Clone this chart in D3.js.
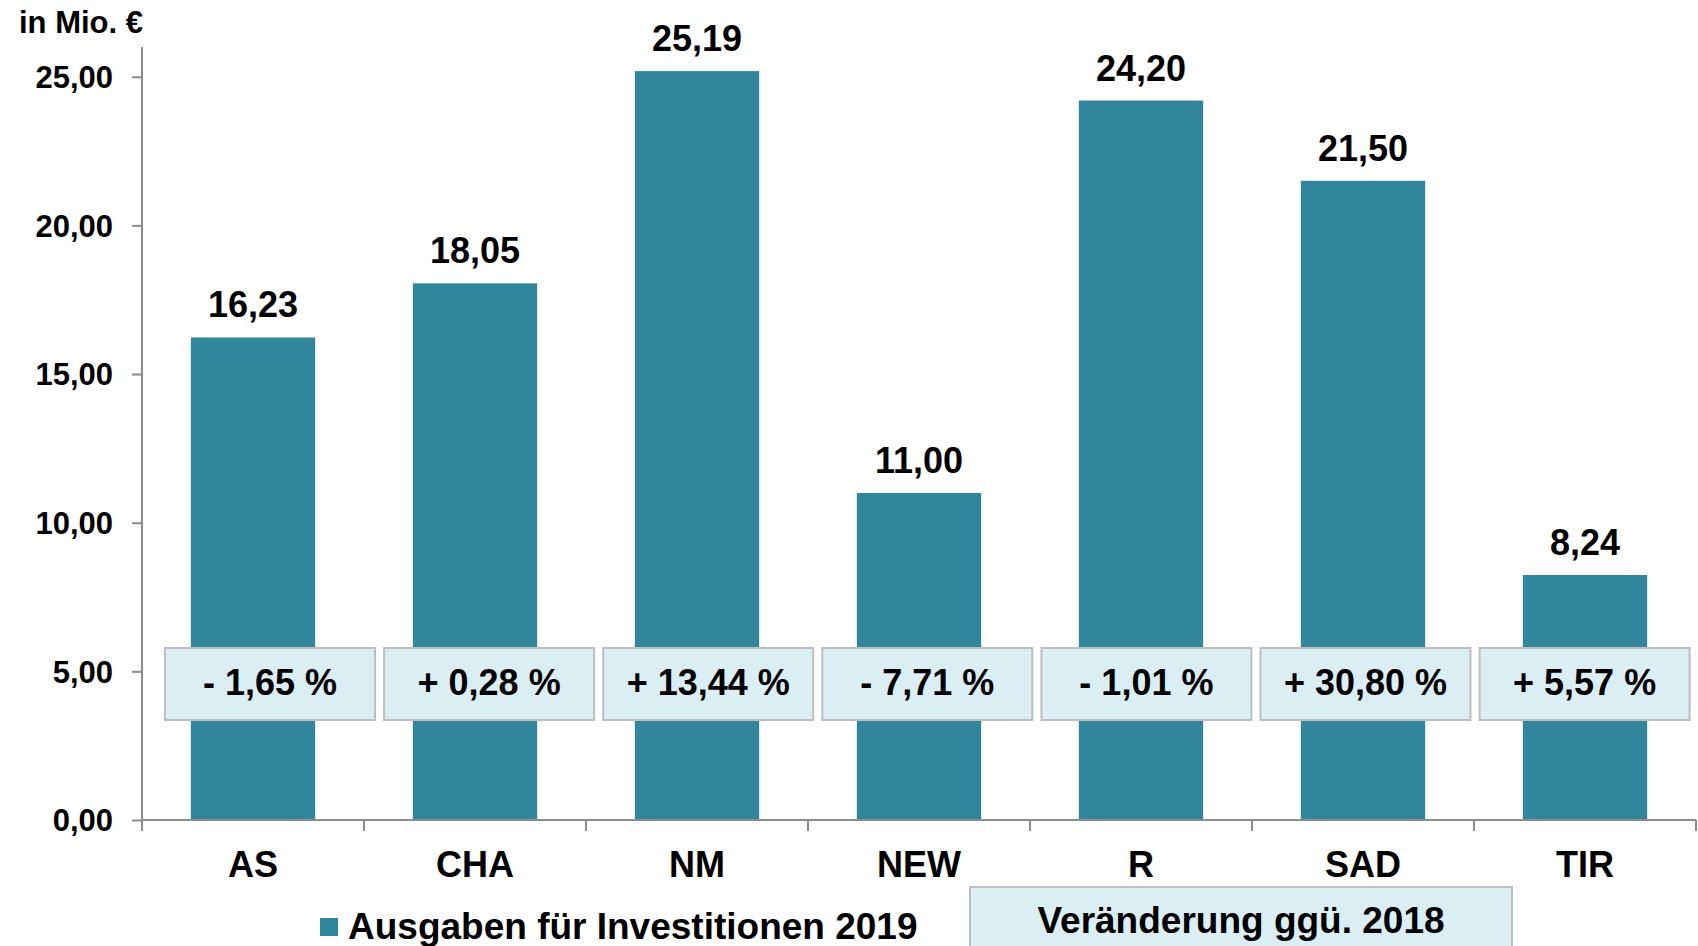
<!DOCTYPE html>
<html>
    <head>
        <meta charset="utf-8">
        <script src="https://d3js.org/d3.v7.min.js"></script>
        <style>
            body { margin: 0; background: #fff; }
            text { font-family: "Liberation Sans", Arial, sans-serif; font-weight: bold; fill: #000; }
        </style>
    </head>
    <body>
        <script>
            // data
            var categories = ["AS", "CHA", "NM", "NEW", "R", "SAD", "TIR"];
            var ausgaben2019 = [16.23, 18.05, 25.19, 11.00, 24.20, 21.50, 8.24];
            var veraenderung = ["- 1,65 %", "+ 0,28 %", "+ 13,44 %", "- 7,71 %", "- 1,01 %", "+ 30,80 %", "+ 5,57 %"];
            var yTicks = [0, 5, 10, 15, 20, 25];

            var w = 1698;
            var h = 946;
            var fmt = function(d) { return d.toFixed(2).replace(".", ","); };

            var svg = d3.select("body")
                .append("svg")
                    .attr("width", w)
                    .attr("height", h);

            var x = d3.scaleBand()
                .domain(categories)
                .range([142, 1696])
                .paddingInner(0.44)
                .paddingOuter(0.22);

            var y = d3.scaleLinear()
                .domain([0, 26])
                .range([820, 47]);

            var axisColor = "#8c8c8c";

            // bars
            svg.selectAll("rect.bar")
                .data(ausgaben2019)
                .enter()
                .append("rect")
                    .attr("class", "bar")
                    .attr("x", function(d, i) { return x(categories[i]); })
                    .attr("y", function(d) { return y(d); })
                    .attr("width", x.bandwidth())
                    .attr("height", function(d) { return y(0) - y(d); })
                    .style("fill", "#31869b");

            // value labels above bars
            svg.selectAll("text.val")
                .data(ausgaben2019)
                .enter()
                .append("text")
                    .attr("class", "val")
                    .attr("x", function(d, i) { return x(categories[i]) + x.bandwidth() / 2; })
                    .attr("y", function(d) { return y(d) - 20; })
                    .attr("text-anchor", "middle")
                    .attr("font-size", 36)
                    .text(fmt);

            // y axis
            var yAxis = svg.append("g")
                .attr("transform", "translate(142,0)")
                .call(d3.axisLeft(y).tickValues(yTicks).tickSize(10).tickPadding(19).tickFormat(fmt));
            yAxis.select(".domain").remove();
            yAxis.selectAll(".tick line").attr("stroke", axisColor).attr("stroke-width", 2);
            yAxis.selectAll(".tick text")
                .attr("font-size", 31)
                .attr("font-family", "Liberation Sans, Arial, sans-serif")
                .attr("font-weight", "bold")
                .attr("dy", "0.35em");
            svg.append("line")
                .attr("x1", 142).attr("x2", 142)
                .attr("y1", y.range()[1]).attr("y2", y(0))
                .attr("stroke", axisColor).attr("stroke-width", 2);

            // x axis
            var xAxis = svg.append("g")
                .attr("transform", "translate(0," + y(0) + ")")
                .call(d3.axisBottom(x).tickSize(0).tickPadding(31));
            xAxis.select(".domain").remove();
            xAxis.selectAll(".tick text")
                .attr("font-size", 36)
                .attr("font-family", "Liberation Sans, Arial, sans-serif")
                .attr("font-weight", "bold")
                .attr("dy", "0.71em");
            svg.append("line")
                .attr("x1", x.range()[0]).attr("x2", x.range()[1])
                .attr("y1", y(0)).attr("y2", y(0))
                .attr("stroke", axisColor).attr("stroke-width", 2);
            var bounds = d3.range(categories.length + 1).map(function(i) { return x.range()[0] + i * x.step(); });
            svg.selectAll("line.xtick")
                .data(bounds)
                .enter()
                .append("line")
                    .attr("class", "xtick")
                    .attr("x1", function(d) { return d; })
                    .attr("x2", function(d) { return d; })
                    .attr("y1", y(0))
                    .attr("y2", y(0) + 11)
                    .attr("stroke", axisColor)
                    .attr("stroke-width", 2);

            // unit label
            svg.append("text")
                .attr("x", 143)
                .attr("y", 33)
                .attr("text-anchor", "end")
                .attr("font-size", 31)
                .text("in Mio. €");

            // change-vs-2018 boxes (drift slightly left towards the right side, as in the original)
            var boxW = 210, boxH = 72, boxY = 648;
            var boxes = svg.selectAll("g.chg")
                .data(veraenderung)
                .enter()
                .append("g")
                    .attr("class", "chg")
                    .attr("transform", function(d, i) {
                        var cx = x(categories[i]) + x.bandwidth() / 2 + 17 - 2.9 * i;
                        return "translate(" + cx + "," + boxY + ")";
                    });
            boxes.append("rect")
                .attr("x", -boxW / 2)
                .attr("width", boxW)
                .attr("height", boxH)
                .style("fill", "#dbeef4")
                .style("stroke", "#bfbfbf")
                .style("stroke-width", 2);
            boxes.append("text")
                .attr("y", 47)
                .attr("text-anchor", "middle")
                .attr("font-size", 36)
                .text(function(d) { return d; });

            // legend
            svg.append("rect")
                .attr("x", 320).attr("y", 918)
                .attr("width", 18).attr("height", 18)
                .style("fill", "#31869b");
            svg.append("text")
                .attr("x", 348).attr("y", 939)
                .attr("font-size", 37)
                .text("Ausgaben für Investitionen 2019");

            svg.append("rect")
                .attr("x", 970).attr("y", 887)
                .attr("width", 542).attr("height", 70)
                .style("fill", "#dbeef4")
                .style("stroke", "#bfbfbf")
                .style("stroke-width", 2);
            svg.append("text")
                .attr("x", 1241).attr("y", 933)
                .attr("text-anchor", "middle")
                .attr("font-size", 37)
                .text("Veränderung ggü. 2018");
        </script>
    </body>
</html>
